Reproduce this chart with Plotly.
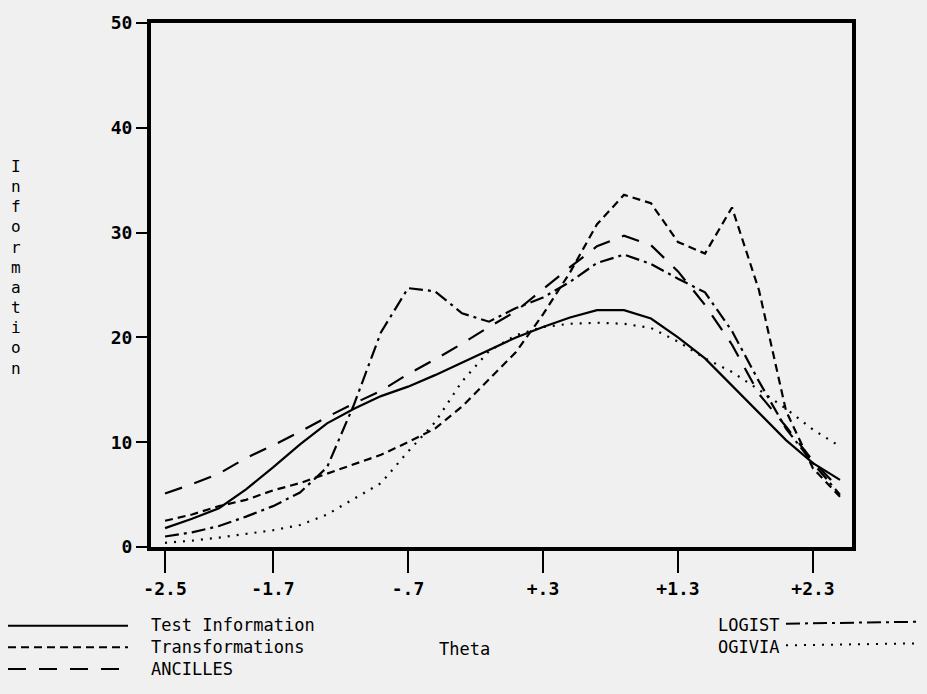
import plotly.graph_objects as go

# ---- data ----
theta = [-2.5, -2.3, -2.1, -1.9, -1.7, -1.5, -1.3, -1.1, -0.9, -0.7, -0.5, -0.3, -0.1,
         0.1, 0.3, 0.5, 0.7, 0.9, 1.1, 1.3, 1.5, 1.7, 1.9, 2.1, 2.3, 2.5]
test_information = [1.8, 2.7, 3.7, 5.5, 7.6, 9.8, 11.8, 13.2, 14.4, 15.3, 16.4, 17.6, 18.8,
                    20.0, 21.0, 21.9, 22.6, 22.6, 21.8, 20.0, 18.0, 15.4, 12.7, 10.2, 8.0, 6.4]
transformations = [2.5, 3.1, 3.9, 4.5, 5.4, 6.1, 7.0, 7.9, 8.8, 10.0, 11.3, 13.4, 16.0,
                   18.6, 22.2, 26.2, 30.8, 33.6, 32.8, 29.1, 28.0, 32.4, 24.5, 13.0, 7.5, 4.8]
ancilles = [5.1, 6.0, 7.0, 8.5, 9.7, 11.0, 12.4, 13.7, 14.9, 16.5, 17.9, 19.4, 21.0,
            22.5, 24.6, 26.7, 28.7, 29.7, 28.8, 26.3, 23.1, 19.3, 14.6, 11.5, 8.2, 5.5]
logist = [1.0, 1.4, 2.0, 2.9, 3.9, 5.2, 7.6, 13.6, 20.5, 24.7, 24.4, 22.3, 21.5,
          22.8, 23.8, 25.3, 27.1, 27.9, 27.0, 25.6, 24.3, 20.6, 15.8, 11.3, 8.0, 5.0]
ogivia = [0.4, 0.6, 0.9, 1.25, 1.6, 2.1, 3.1, 4.6, 6.1, 9.1, 11.9, 15.8, 18.7,
          20.2, 21.0, 21.3, 21.4, 21.3, 20.9, 19.6, 18.0, 16.7, 15.0, 13.2, 11.2, 9.6]

series_names = ["Test Information", "Transformations", "ANCILLES", "LOGIST", "OGIVIA"]
x_tick_vals = [-2.5, -1.7, -0.7, 0.3, 1.3, 2.3]
x_tick_text = ["-2.5", "-1.7", "-.7", "+.3", "+1.3", "+2.3"]
y_tick_vals = [0, 10, 20, 30, 40, 50]
y_tick_text = ["0", "10", "20", "30", "40", "50"]
y_title = "Information"
x_title = "Theta"

# ---- layout geometry ----
W, H = 927, 694
L, R, T, B = 151, 75, 14, 147
PW, PH = W - L - R, H - T - B


def px(x):
    return (x - L) / PW


def py(y):
    return (H - B - y) / PH


FONT = "DejaVu Sans Mono"
BG = "#f0f0f0"
dashes = ["solid", "8px,5px", "18px,13px", "14px,5px,3px,5px", "2px,7px"]
values = [test_information, transformations, ancilles, logist, ogivia]

fig = go.Figure()
for name, vals, d in zip(series_names, values, dashes):
    fig.add_trace(go.Scatter(x=theta, y=vals, mode="lines", name=name,
                             line=dict(color="black", width=2.2, dash=d),
                             showlegend=False))

fig.update_layout(
    width=W, height=H,
    margin=dict(l=L, r=R, t=T, b=B),
    paper_bgcolor=BG, plot_bgcolor=BG,
    showlegend=False,
)
fig.update_xaxes(range=[-2.604, 2.589], tickvals=x_tick_vals, ticktext=x_tick_text,
                 ticks="outside", ticklen=22, tickwidth=2, tickcolor="black",
                 showline=True, linewidth=4, linecolor="black", mirror=True,
                 showgrid=False, zeroline=False,
                 tickfont=dict(family=FONT, size=18, color="black", weight="bold"))
fig.update_yaxes(range=[0, 50], tickvals=y_tick_vals, ticktext=y_tick_text,
                 ticks="outside", ticklen=11, tickwidth=2, tickcolor="black",
                 showline=True, linewidth=4, linecolor="black", mirror=True,
                 showgrid=False, zeroline=False,
                 tickfont=dict(family=FONT, size=18, color="black", weight="bold"))

# vertical stacked y title
for i, ch in enumerate(y_title):
    fig.add_annotation(x=px(16), y=py(160 + i * 20.5), xref="paper", yref="paper",
                       text=ch, showarrow=False, xanchor="center", yanchor="middle",
                       font=dict(family=FONT, size=16, color="black"))

# custom legend: line samples
rows_y = [627, 649, 671]
for idx in range(3):
    yy = rows_y[idx]
    fig.add_shape(type="line", xref="paper", yref="paper",
                  x0=px(8), x1=px(128), y0=py(yy), y1=py(yy),
                  line=dict(color="black", width=2, dash=dashes[idx]))
for idx in (3, 4):
    yy = rows_y[idx - 3]
    fig.add_shape(type="line", xref="paper", yref="paper",
                  x0=px(786), x1=px(921), y0=py(yy - 2), y1=py(yy - 4),
                  line=dict(color="black", width=2, dash=dashes[idx]))

# legend texts as multi-line blocks
fig.add_annotation(x=px(150), y=py(rows_y[0] - 12), xref="paper", yref="paper",
                   text="<br>".join(series_names[:3]), showarrow=False,
                   xanchor="left", yanchor="top", align="left", borderpad=0,
                   font=dict(family=FONT, size=17, color="black"))
fig.add_annotation(x=px(780), y=py(rows_y[0] - 12), xref="paper", yref="paper",
                   text="<br>".join(series_names[3:]), showarrow=False,
                   xanchor="right", yanchor="top", align="left", borderpad=0,
                   font=dict(family=FONT, size=17, color="black"))

fig.add_annotation(x=px(464), y=py(rows_y[1] + 2), xref="paper", yref="paper",
                   text=x_title, showarrow=False, xanchor="center", yanchor="middle",
                   font=dict(family=FONT, size=17, color="black"))

fig.write_html("out.html")
